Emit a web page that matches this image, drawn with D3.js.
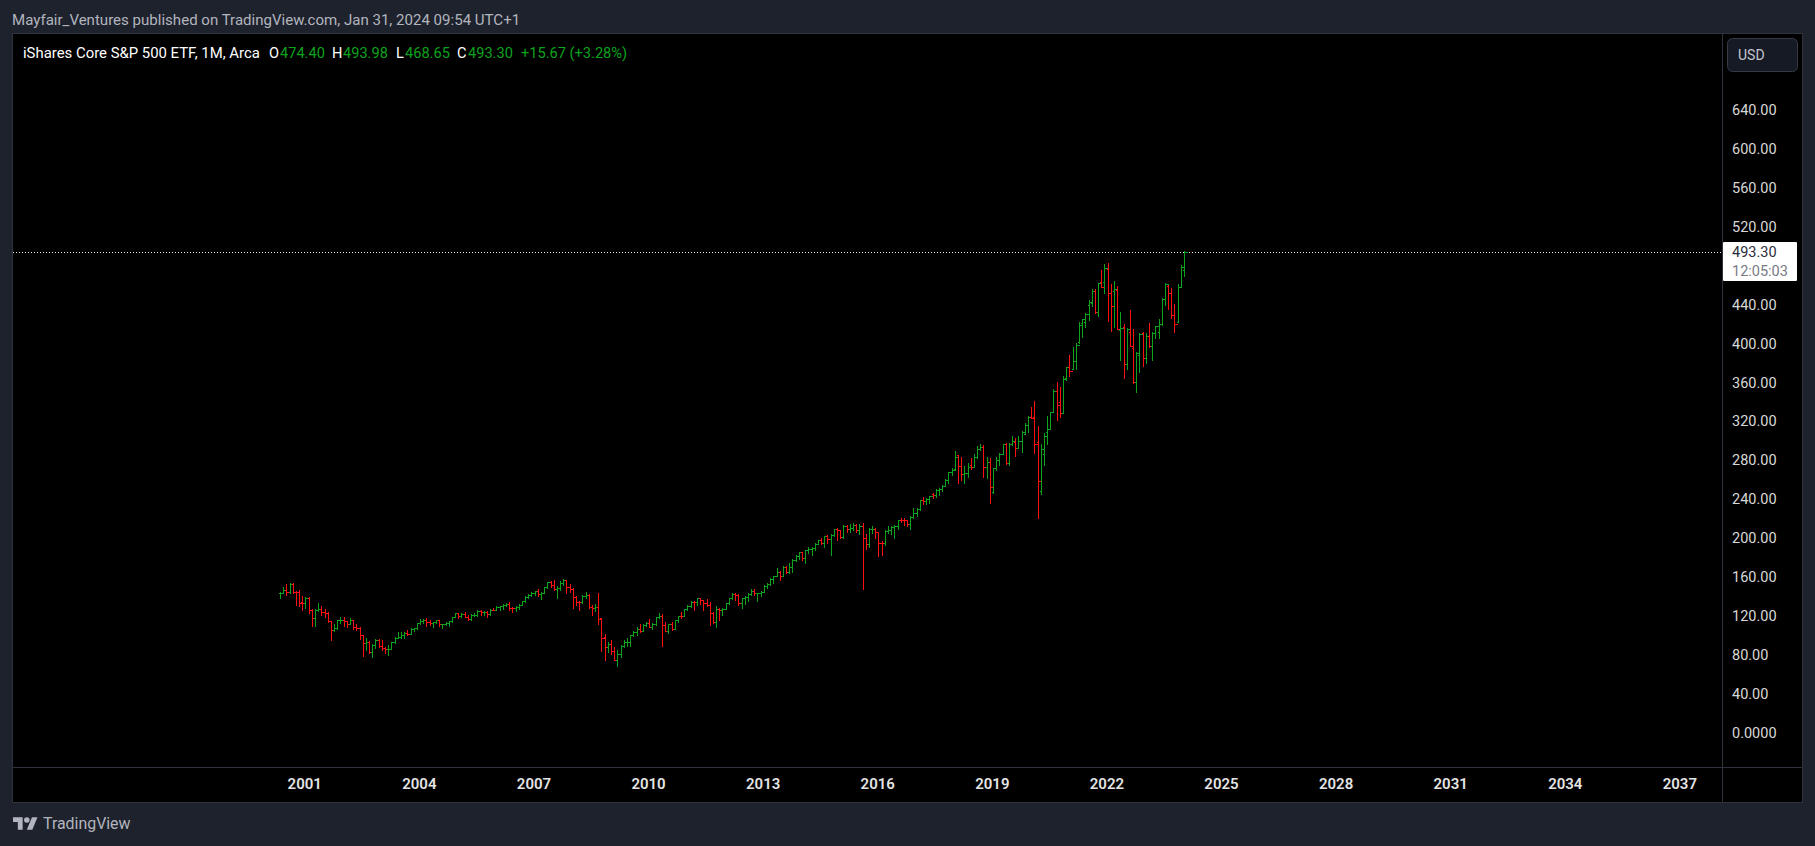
<!DOCTYPE html>
<html><head><meta charset="utf-8">
<script src="https://cdn.jsdelivr.net/npm/d3@7/dist/d3.min.js"></script>
<style>
html,body{margin:0;padding:0;background:#1e222d;overflow:hidden}
svg{display:block}
text{font-family:Roboto,"Open Sans",sans-serif}
</style></head><body>
<svg id="c" width="1815" height="846"></svg>
<script>
const startYear = 2000, startMonth = 5;
const opens = [
142,142.5,146,143.5,152,144,143,133,
132.5,137,124.5,116.5,125,125.7,122.8,121.5,113.5,104.5,106.5,114.5,
115,113.3,111,115,108,107,99,91.5,91.8,81.8,89,94,
88.3,85.8,84.5,85,91.8,96.5,97.5,99,100.9,99.9,105.3,106,
111.5,113.4,114.9,113,111.3,112.4,114.5,110.5,111,112,113.5,117.8,
121.6,118.4,120.6,118.3,116,119.5,119.5,123.8,122.5,123.3,121,125.3,
125,128.4,128.6,130,131.4,127.5,127.3,128,130.6,133.8,138.3,140.6,
142.2,144.4,141.1,142.4,149,153.4,150.5,146.5,148,153,155.5,148.3,
147,138,133.5,132.8,139,140.5,128,127,128.5,116.8,97,87.3,
90.5,82.8,74,79.5,87.5,92,92.5,98.8,102.3,105.9,103.9,109.8,
111.8,107.8,110.7,117.7,119,109.2,103.5,110.4,105.2,114.4,118.7,118.4,
126.3,128.9,133.2,133.1,137,134.9,132.6,129.7,122.4,112.5,125.8,125.3,
126,131.9,137.1,141.8,140.8,132,137,138.8,141.5,144.8,142,142.5,
143.1,150,152,157.3,160.2,163.7,160,168.7,164.2,169,176,181,
184.7,178.6,186.8,187.6,189,192.9,197,193.8,201.3,198,202.5,208,
206.9,200,211.4,207.8,209.7,212,207.2,211.3,198.5,192.8,208.5,208.7,
205,194,193.5,206.7,207.7,210.5,211,218,217.5,217.2,213.2,220.4,
224.5,228.7,237.8,237.2,239.5,244.5,243.5,248.5,249.3,252.9,258.8,266.5,
269.6,284,273,264.5,265.5,274,271.7,282.6,291,293,272,277,
246.6,271,279.5,285,296,276,296,298,291.6,299,305.5,315,
323,323,298,247.7,285.4,308.3,311,328.8,350,338.5,328,363.5,
375,373,381,400,420.4,420.7,438.5,440.3,453.3,431.7,462.5,462.5,
476,451,453,454,413,416.3,378,410.5,394,359,387,409.6,
383.7,406.7,396.7,410,411,418.7,444.7,458,451,428,421,456.8,
474.40];
const highs = [
144,148.6,151.7,152.7,153,144.5,146,139.5,
138.5,138,126.5,126.5,132,129,126.5,123,113.5,111,115,117.5,
117.8,113.5,116.5,115,111,107.5,99,96.5,93,90,95,95,
94,86.5,89,92,97,102,102,102,104,106,106.5,112,
115.5,116,116.5,115,113,115,115,111,113,114,118,122,
122,121.5,123,119.5,120.5,122,124.5,124.5,124,124,126,127.5,
129.5,129,131,132.5,133,128,129,131,134,139,141,143,
144.5,146.5,144,149,154,154.5,156,150,155,157,155.5,152,
147.5,139,134,140,144,141,130,131,142,116.4,100.3,92.4,
94.2,87.3,83.5,89,94,96,99.5,103,108,111,111,112.5,
116,111.5,118,122,121,113,111,113,115,119,123,126.5,
130,134.5,134,137.5,137.5,135,136,133,122.5,129,127,127,
132,137.5,142,142,141.5,137.5,139,142,147,147,142.5,145,
150.5,153,157.5,160.2,168,165,170,170.5,173,177,181.5,185,
185,187,189.5,189.5,193.5,197,199,201.5,202,203,208,209.5,
207.5,212,212.5,213,214,213.5,213,214,203,209.5,211.5,209.5,
205,196,207,211.5,211,212.5,218,219.5,220,217.5,222,229.5,
230,237.8,240.8,240,242.5,245,249,250,254,259.4,266.6,270.5,
288.6,284.4,282,273,275.8,281,285,293.7,295.7,294.7,282.5,281,
270.7,282,286,296,296.4,296.5,304,301.7,304,308.6,317,324.5,
334,340,314,295.7,306.6,324.5,328.8,352,359,354,366,375,
387,395.7,399,421.4,423.8,430,443.7,454.7,455,460.8,475,480.8,
481.4,459.8,463,458.4,431,418.7,414.6,433.5,413.9,390.5,409.6,411,
409.4,420,411,417,424,445.4,460.8,459,455.8,439.5,460,479.6,
493.98];
const lows = [
137,142.5,140.5,142.5,142.7,130,129.5,125.5,
127.5,122,108.5,109,124,120,118,113,94.5,103,105.5,111.5,
108.5,107.5,110.5,105,104,95,77.5,83.5,81,76.5,86,87,
84,80.5,78.5,84.5,91,96,96,96.5,99,99.9,103,105.5,
110.5,112,109,110,107.5,112,109,106,109.5,109,112.5,117.5,
116.5,117.5,117.5,114.5,115,118.5,119,120,120,117.5,120,124.5,
125,125.5,126.5,129,124.5,122.5,123.5,126.5,130,133.5,137.5,139,
140,139,136.5,142,148,149,145.5,137.5,146,151,142,143.5,
127.5,130,125,132,137.5,127,120,124,111,83.2,73.7,82,
79.8,73.7,67,77,87,88,87.5,98,99,102,103,109,
107.5,105,110,116.5,88.4,103,101,104,105,113,117,118.4,
125.5,128.5,125,130,131,125.5,129,110,112,108,115,120,
126,131.5,136,135.5,130,127,131,134,140,140,134,139,
143,148,150.5,153,159.5,156,160,163,163.5,164.5,175.5,177.5,
176.5,173.5,183.5,181.5,186.5,192.5,193,190,193.5,181.5,201,197,
198.5,199,205,205,207,205.5,203,147,187.7,190,204.5,199,
181,182,192,204,203,199.5,208,215,212.5,211,208.5,220,
222,228,233.7,234,235,240,241,243,247,253,256,264,
268.5,255.3,258.7,255.9,261.4,270,271.7,281,289.6,262,261,235.3,
245,269,274,285,275.4,274,294.6,283,292,287,306,308.3,
322,286.7,219.9,244.3,274,296,311,328.8,320.4,323.8,328,361.5,
365.9,372.8,372.8,399.8,406,416.3,423.3,437.6,430.6,427.6,457.3,450.5,
422.4,412,416.3,413.5,382,363.8,372.8,396.7,358.7,349.5,370,376,
379,395.7,382,405,405,418,438.5,434.4,424.8,411.2,421,456.7,
468.65];
const closes = [
142,145.5,143.5,152,144,143,132,132.2,
137,124.5,116.5,125,125.7,122.8,121.5,113.5,104.5,106.5,114.5,115,
113.3,111,115,108,107,99,91.5,91.8,81.8,89,94,88.3,
85.8,84.5,85,91.8,96.5,97.5,99,100.9,99.9,105.3,106,111.5,
113.4,114.9,113,111.3,112.4,114.5,110.5,111,112,113.5,117.8,121.6,
118.4,120.6,118.3,116,119.5,119.7,123.8,122.5,123.3,121,125.3,125,
128.4,128.6,130,131.4,127.5,127.3,128,130.6,133.8,138.3,140.6,142.2,
144.4,141.1,142.4,149,153.4,150.5,146.5,148,153,155.5,148.3,147,
138,133.5,132.8,139,140.5,128,127,128.5,116,96.7,87.3,90.5,
82.8,74,79.5,87.5,92,92.5,98.8,102.3,105.9,103.9,109.8,111.8,
107.8,110.7,117.7,119,109.2,103.5,110.4,105.2,114.4,118.7,118.4,126.3,
128.9,133.2,133.1,137,134.9,132.6,129.7,122.4,112.5,125.8,125.3,126,
131.9,137.1,141.8,140.8,132,137,138.8,141.5,144.8,142,142.5,143.1,
150,152,157.3,160.2,163.7,160,168.7,164.2,169,176,181,184.7,
178.6,186.8,187.6,189,192.9,197,193.8,201.3,198,202.5,208,206.9,
200,211.4,207.8,209.7,212,207.2,211.3,198.5,192.8,208.5,208.7,205,
194,193.5,206.7,207.7,210.5,211,218,217.5,217.2,213.2,220.4,224.5,
228.7,237.8,237.2,239.5,242,243.5,248.5,249.3,252.9,258.8,266.5,269,
282.6,273,264.5,265.5,271.7,271.7,282.6,291,292.9,272,277,251.8,
270.7,279.5,285,296,276.4,296,299,291.6,299,307.8,315,323,
322,295.4,257.7,290,304,310.8,328.8,350.4,335.7,328,362.5,375,
370.8,381,397.5,418,423.8,429.3,442,453,431.7,460.8,457.3,476.3,
451,438,454.7,413.5,415.2,378,413.9,396.7,359,389,408.7,383.7,
406.7,396.4,410,417,419,445,460,451,428,419,456.8,477.63,
493.30];
const priceTicks = [640,600,560,520,440,400,360,320,280,240,200,160,120,80,40,0];
const yearTicks = [2001,2004,2007,2010,2013,2016,2019,2022,2025,2028,2031,2034,2037];
const lastPrice = 493.30;
const countdown = "12:05:03";
const titleText = "Mayfair_Ventures published on TradingView.com, Jan 31, 2024 09:54 UTC+1";
const symbolText = "iShares Core S&P 500 ETF, 1M, Arca";
const legendItems = [["O","474.40",269,280],["H","493.98",332,343],["L","468.65",396,405],["C","493.30",457,468]];
const changeText = "+15.67 (+3.28%)";

const UP="#0da31d", DOWN="#ff1010";
const svg=d3.select("#c");
const border="#2f333e";
const monthIndex=(y,m)=>(y-startYear)*12+(m-startMonth);
const x=d3.scaleLinear().domain([0,284]).range([280,1184]);
const y=d3.scaleLinear().domain([0,640]).range([731.6,109]);
const px=v=>Math.round(v)+0.5;

svg.append("rect").attr("x",12.5).attr("y",33.5).attr("width",1790).attr("height",769)
  .attr("fill","#000").attr("stroke",border).attr("shape-rendering","crispEdges");
svg.append("line").attr("x1",1722.5).attr("x2",1722.5).attr("y1",34).attr("y2",802).attr("stroke",border).attr("shape-rendering","crispEdges");
svg.append("line").attr("x1",13).attr("x2",1802).attr("y1",767.5).attr("y2",767.5).attr("stroke",border).attr("shape-rendering","crispEdges");

svg.append("line").attr("x1",13).attr("x2",1722).attr("y1",px(y(lastPrice))).attr("y2",px(y(lastPrice)))
  .attr("stroke","#e8e8e8").attr("stroke-dasharray","1 2").attr("shape-rendering","crispEdges");

const bars=d3.range(opens.length).map(i=>({i,o:opens[i],h:highs[i],l:lows[i],c:closes[i]}));
const g=svg.append("g").attr("shape-rendering","crispEdges").attr("stroke-width",1);
const bar=g.selectAll("g").data(bars).join("g").attr("stroke",d=>d.c>=d.o?UP:DOWN);
bar.append("line").attr("x1",d=>px(x(d.i))).attr("x2",d=>px(x(d.i))).attr("y1",d=>Math.round(y(d.h))).attr("y2",d=>Math.round(y(d.l))+1);
bar.append("line").attr("x1",d=>px(x(d.i))-2).attr("x2",d=>px(x(d.i))).attr("y1",d=>px(y(d.o))).attr("y2",d=>px(y(d.o)));
bar.append("line").attr("x1",d=>px(x(d.i))).attr("x2",d=>px(x(d.i))+3).attr("y1",d=>px(y(d.c))).attr("y2",d=>px(y(d.c)));

const yAxis=d3.axisRight(y).tickValues(priceTicks).tickSize(0).tickPadding(0)
  .tickFormat(v=>v===0?"0.0000":d3.format(".2f")(v));
svg.append("g").attr("transform","translate(1732,1)").call(yAxis)
  .call(a=>a.select(".domain").remove())
  .selectAll("text").attr("fill","#d8d8d8").attr("font-size",14.5).style("font-family","Roboto");

const xAxis=d3.axisBottom(x).tickValues(yearTicks.map(t=>monthIndex(t,1))).tickSize(0).tickPadding(0)
  .tickFormat(v=>String(startYear+Math.floor((v+startMonth-1)/12)));
svg.append("g").attr("transform","translate(-1.2,778)").call(xAxis)
  .call(a=>a.select(".domain").remove())
  .selectAll("text").attr("fill","#e4e4e4").attr("font-size",15).attr("font-weight",600).style("font-family","Roboto");

// title and legend
svg.append("text").attr("x",12).attr("y",25).attr("fill","#b2b5be").attr("font-size",15.05).text(titleText);
svg.append("text").attr("x",23).attr("y",58).attr("fill","#ffffff").attr("font-size",14.9).text(symbolText);
legendItems.forEach(([k,v,kx,vx])=>{
  svg.append("text").attr("x",kx).attr("y",58).attr("fill","#ffffff").attr("font-size",14.6).text(k);
  svg.append("text").attr("x",vx).attr("y",58).attr("fill","#0da31d").attr("font-size",14.6).text(v);
});
svg.append("text").attr("x",521).attr("y",58).attr("fill","#0da31d").attr("font-size",14.6).text(changeText);

// USD button
svg.append("rect").attr("x",1727.5).attr("y",38.5).attr("width",70).attr("height",33).attr("rx",5)
  .attr("fill","#161a25").attr("stroke","#363a45");
svg.append("text").attr("x",1738).attr("y",60).attr("fill","#c3c6ce").attr("font-size",14).text("USD");

// last price label
svg.append("rect").attr("x",1723).attr("y",242).attr("width",74).attr("height",39).attr("rx",1).attr("fill","#ffffff");
svg.append("text").attr("x",1732).attr("y",257).attr("fill","#2a2e39").attr("font-size",14.5).text(d3.format(".2f")(lastPrice));
svg.append("text").attr("x",1732).attr("y",276).attr("fill","#787b86").attr("font-size",14.5).text(countdown);

// footer logo
const logo=svg.append("g").attr("transform","translate(13,814.5) scale(0.69)").attr("fill","#b2b5be");
logo.append("path").attr("d","M14 22H7V11H0V4h14v18zM28 22h-8l7.5-18h8L28 22z");
logo.append("circle").attr("cx",20).attr("cy",8).attr("r",4);
svg.append("text").attr("x",43).attr("y",829).attr("fill","#b2b5be").attr("font-size",15.9).text("TradingView");
</script>
</body></html>
